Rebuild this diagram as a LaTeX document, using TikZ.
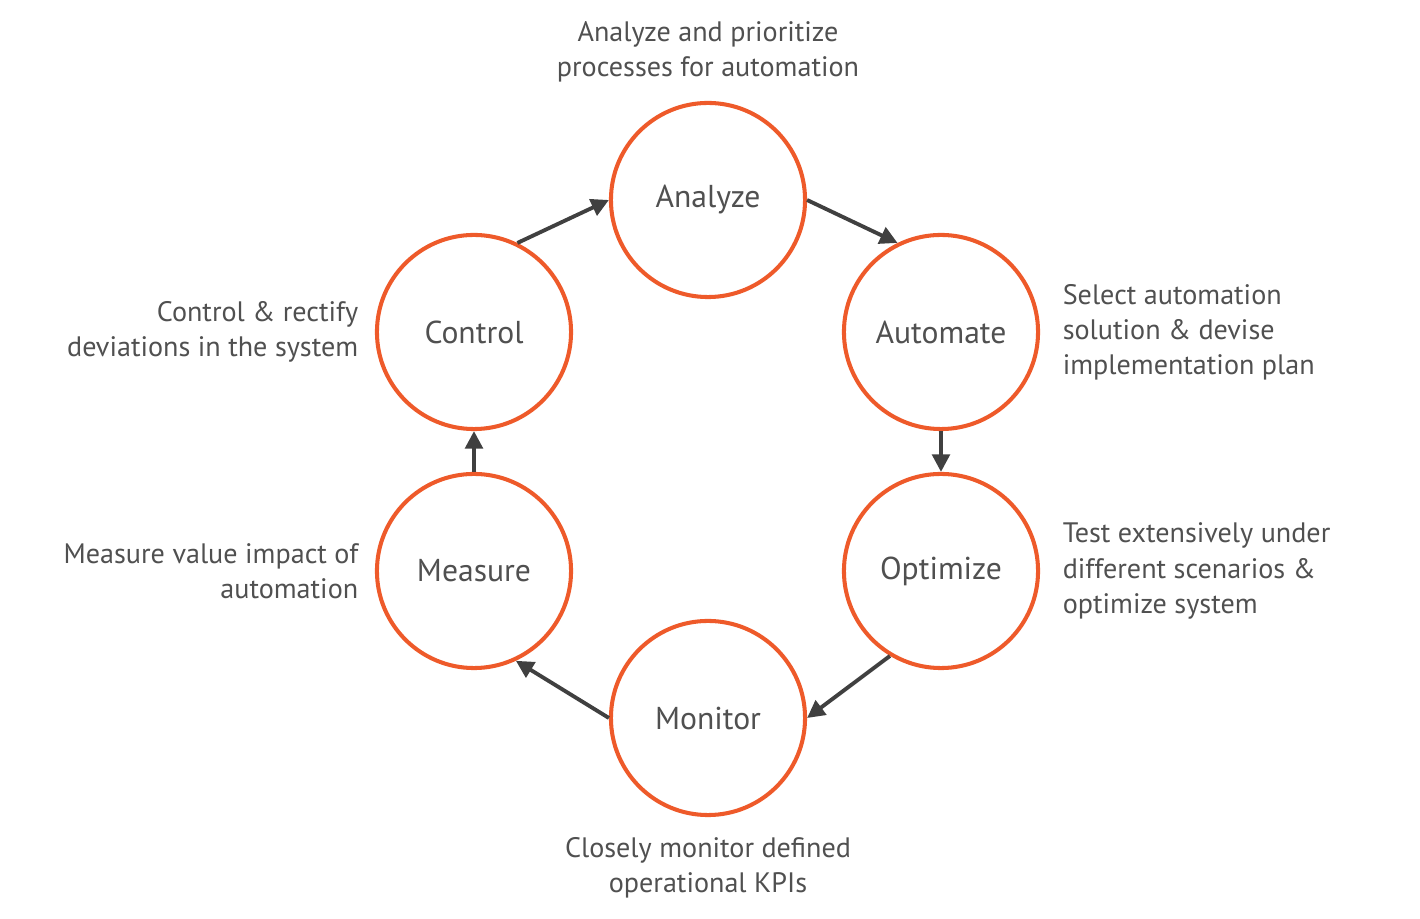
\documentclass[tikz,border=0pt]{standalone}
\usepackage{fontspec}
\setmainfont{PT Sans}
\usetikzlibrary{positioning,arrows.meta}
\definecolor{stepor}{HTML}{EE5A2A}
\definecolor{txtgr}{HTML}{505050}
\definecolor{arrgr}{HTML}{404040}
\begin{document}
\begin{tikzpicture}[x=0.01cm,y=-0.01cm,
stage/.style={
  draw=stepor,
  circle,
  line width=1.15pt,
  minimum size=1.94cm,
  text=txtgr,
  font=\fontsize{9}{10}\selectfont
},
desc/.style={
  text=txtgr,
  inner sep=0pt,
  font=\fontsize{8}{10}\selectfont
},
flow/.style={
  draw=arrgr,
  line width=1.1pt,
  -{Triangle[length=5pt,width=5pt]}
}
]
\useasboundingbox (0,0) rectangle (1420,919);
\node[stage] (analyze) at (708,200) {Analyze};
\node[stage] (automate) at (941,332) {Automate};
\node[stage] (optimize) at (941,571) {Optimize};
\node[stage] (monitor) at (708,718) {Monitor};
\node[stage] (measure) at (474,571) {Measure};
\node[stage] (control) at (474,332) {Control};

\node[desc,align=center] (analyzetxt) at (708,52)
  {Analyze and prioritize\\processes for automation};
\node[desc,align=left,right=0.22cm of automate] (automatetxt)
  {Select automation\\solution \& devise\\implementation plan};
\node[desc,align=left,right=0.22cm of optimize] (optimizetxt)
  {Test extensively under\\different scenarios \&\\optimize system};
\node[desc,align=center] (monitortxt) at (708,868)
  {Closely monitor defined\\operational KPIs};
\node[desc,align=right,left=0.16cm of measure] (measuretxt)
  {Measure value impact of\\automation};
\node[desc,align=right,left=0.16cm of control] (controltxt)
  {Control \& rectify\\deviations in the system};

\draw[flow] (control.64) -- (analyze.180);
\draw[flow] (analyze.0) -- (automate.116);
\draw[flow] (automate.270) -- (optimize.90);
\draw[flow] (optimize.239) -- (monitor.0);
\draw[flow] (monitor.180) -- (measure.295);
\draw[flow] (measure.90) -- (control.270);
\end{tikzpicture}
\end{document}
